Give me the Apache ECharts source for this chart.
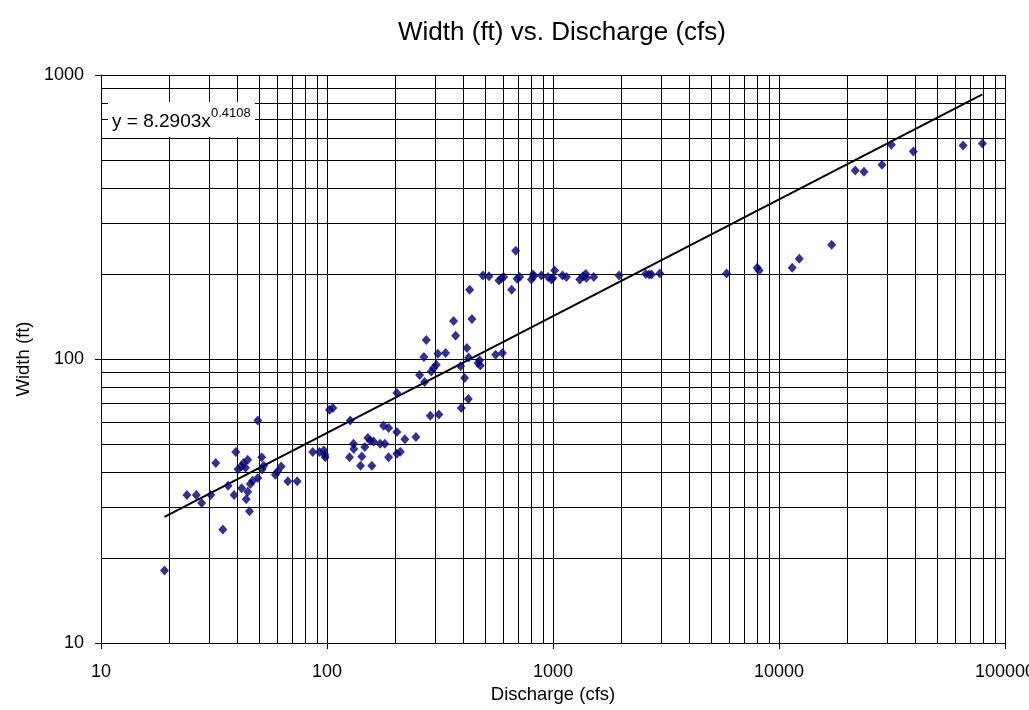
<!DOCTYPE html>
<html>
<head>
<meta charset="utf-8">
<script src="https://cdn.jsdelivr.net/npm/echarts@6/dist/echarts.min.js"></script>
<style>
html,body{margin:0;padding:0;background:#fff;}
#chart{width:1029px;height:710px;}
</style>
</head>
<body>
<div id="chart"></div>
<script>
// ---- data ----
const discharge = [19.1,24.0,26.4,27.9,30.6,32.2,34.6,36.5,38.8,39.5,40.4,41.7,42.7,43.6,44.6,41.9,43.9,44.6,45.4,45.8,
  46.9,49.4,49.4,51.4,51.6,52.5,59.1,60.4,62.7,67.1,73.8,86.5,92.6,96.8,97.8,98.2,102.6,106.1,126.7,125.8,
  131.0,131.4,140.7,142.6,147.0,151.6,155.4,160.7,157.9,172.0,180.3,177.9,187.3,187.3,203.8,203.8,211.0,203.8,221.1,247.4,
  256.9,268.4,275.0,270.3,286.4,312.6,289.3,296.2,304.5,309.5,334.7,363.3,370.8,390.1,392.9,406.3,416.0,422.0,423.3,437.8,
  465.5,473.6,477.0,557.3,597.0,427.6,683.7,656.4,489.8,520.7,576.8,590.9,605.0,692.9,712.2,802.6,815.8,821.6,888.3,950.6,
  984.0,1000,1017,1101,1146,1313,1358,1396,1406,1515,1960,2573,2662,2728,2969,5861,8006,8170,11440,12290,
  17100,21750,23770,28560,31410,39290,65250,79420];
const width = [18.0,33.2,33.2,31.1,33.2,43.0,25.1,35.8,33.2,47.0,40.9,41.8,43.0,41.4,44.2,35.1,32.1,34.1,29.1,36.3,
  37.3,60.7,38.1,45.1,40.9,42.1,39.1,40.2,41.8,37.1,37.1,47.0,47.0,47.6,46.0,45.1,66.3,67.2,60.7,45.1,
  50.3,48.2,42.1,45.4,49.0,52.7,51.6,51.2,42.1,50.3,50.3,58.2,57.1,45.1,55.3,46.4,47.1,75.9,52.2,53.1,
  87.8,101.6,116.7,83.0,63.1,63.8,90.4,93.0,95.5,104.4,105.0,136.1,120.8,94.2,67.2,85.7,109.3,72.3,101.3,138.4,
  96.8,98.9,94.9,103.6,105.0,175.5,240.4,175.5,196.7,195.6,188.9,192.4,194.6,191.5,194.6,190.4,198.3,195.6,196.7,194.6,
  190.4,193.0,204.8,196.7,194.6,190.4,195.6,199.4,193.0,194.6,196.7,199.4,198.3,198.3,199.9,199.9,209.4,204.8,209.4,225.3,
  252.4,461.3,456.4,483.3,568.3,538.3,565.1,574.3];
// power trendline endpoints (y = 8.2903x^0.4108)
const trendX = [19.1, 79420];
const trendY = [27.8, 854];
// axis ranges and minor gridline values
const xRange = [10, 100000];
const yRange = [10, 1000];
const xMinor = [20,30,40,50,60,70,80,90,200,300,400,500,600,700,800,900,2000,3000,4000,5000,6000,7000,8000,9000,
  20000,30000,40000,50000,60000,70000,80000,90000];
const yMinor = [20,30,40,50,60,70,80,90,200,300,400,500,600,700,800,900];

const FONT = '"Liberation Sans", Arial, sans-serif';
const chart = echarts.init(document.getElementById('chart'), null, {renderer:'canvas'});

const points = discharge.map((x,i)=>[x, width[i]]);
const trend = trendX.map((x,i)=>[x, trendY[i]]);

chart.setOption({
  animation:false,
  backgroundColor:'#ffffff',
  textStyle:{fontFamily:FONT},
  grid:{left:101, right:24, top:75, bottom:67, containLabel:false, outerBoundsMode:'none'},
  xAxis:{
    type:'log', logBase:10, min:xRange[0], max:xRange[1],
    name:'Discharge (cfs)', nameLocation:'middle', nameGap:41,
    nameTextStyle:{color:'#000', fontSize:18.5, fontFamily:FONT},
    axisLine:{show:true, lineStyle:{color:'#000', width:1}},
    axisTick:{show:true, inside:false, length:6, lineStyle:{color:'#000'}},
    axisLabel:{color:'#000', fontSize:18, fontFamily:FONT, margin:20, hideOverlap:false,
      formatter:v=>String(Math.round(v))},
    splitLine:{show:true, lineStyle:{color:'#000', width:1}}
  },
  yAxis:{
    type:'log', logBase:10, min:yRange[0], max:yRange[1],
    name:'Width (ft)', nameLocation:'middle', nameGap:66,
    nameTextStyle:{color:'#000', fontSize:18.5, fontFamily:FONT},
    axisLine:{show:true, lineStyle:{color:'#000', width:1}},
    axisTick:{show:true, inside:false, length:6, lineStyle:{color:'#000'}},
    axisLabel:{color:'#000', fontSize:18, fontFamily:FONT, margin:17,
      formatter:v=>String(Math.round(v))},
    splitLine:{show:true, lineStyle:{color:'#000', width:1}}
  },
  graphic:[
    {type:'text', x:562, y:33, z:10,
      style:{text:'Width (ft) vs. Discharge (cfs)', fill:'#000', font:'26px ' + FONT,
        textAlign:'center', textVerticalAlign:'middle'}},
    {type:'rect', shape:{x:108, y:102, width:147, height:35}, style:{fill:'#fff'}, z:20},
    {type:'text', x:112, y:122, z:21,
      style:{text:'y = 8.2903x', fill:'#000', font:'19px ' + FONT, textAlign:'left', textVerticalAlign:'middle'}},
    {type:'text', x:211, y:113.5, z:21,
      style:{text:'0.4108', fill:'#000', font:'13px ' + FONT, textAlign:'left', textVerticalAlign:'middle'}}
  ],
  series:[
    {
      type:'custom', silent:true, z:1, clip:true,
      data:xMinor.map(v=>[v, yRange[0]]),
      renderItem:(params, api)=>{
        const v = api.value(0);
        const a = api.coord([v, yRange[1]]);
        const b = api.coord([v, yRange[0]]);
        const x = Math.round(a[0]) + 0.5;
        return {type:'line', shape:{x1:x, y1:a[1], x2:x, y2:b[1]}, style:{stroke:'#000', lineWidth:1}};
      }
    },
    {
      type:'custom', silent:true, z:1, clip:true,
      data:yMinor.map(v=>[xRange[0], v]),
      renderItem:(params, api)=>{
        const v = api.value(1);
        const a = api.coord([xRange[0], v]);
        const b = api.coord([xRange[1], v]);
        const y = Math.round(a[1]) + 0.5;
        return {type:'line', shape:{x1:a[0], y1:y, x2:b[0], y2:y}, style:{stroke:'#000', lineWidth:1}};
      }
    },
    {
      type:'line', data:trend, symbol:'none', z:3, silent:true,
      lineStyle:{color:'#000', width:2}
    },
    {
      type:'scatter', data:points, symbol:'diamond', symbolSize:[9,10], z:4,
      itemStyle:{color:'#000070'}
    }
  ]
});
</script>
</body>
</html>
